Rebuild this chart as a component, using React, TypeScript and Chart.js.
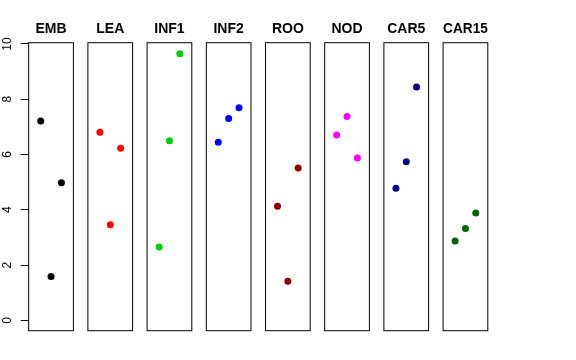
import React, { useEffect, useRef } from "react";
import { Chart, registerables } from "chart.js";

Chart.register(...registerables);

// ---- data ----
const categories = ["EMB", "LEA", "INF1", "INF2", "ROO", "NOD", "CAR5", "CAR15"];
const colors = ["#000000", "#FF0000", "#00CD00", "#0000FF", "#8B0000", "#FF00FF", "#000080", "#006400"];
const xPositions = [1, 2, 3];
const embValues = [7.21, 1.59, 4.98];
const leaValues = [6.81, 3.46, 6.23];
const inf1Values = [2.65, 6.5, 9.65];
const inf2Values = [6.44, 7.3, 7.69];
const rooValues = [4.13, 1.41, 5.51];
const nodValues = [6.71, 7.38, 5.87];
const car5Values = [4.78, 5.74, 8.44];
const car15Values = [2.87, 3.32, 3.88];
const yTicks = [0, 2, 4, 6, 8, 10];

const seriesValues = [embValues, leaValues, inf1Values, inf2Values, rooValues, nodValues, car5Values, car15Values];

// ---- layout ----
const W = 576;
const H = 360;
const PANEL_LEFT0 = 28.7;
const PANEL_STEP = 59.2;
const PANEL_WIDTH = 44.7;
const PLOT_TOP = 42.7;
const PLOT_BOTTOM = 330.7;
const FONT = "'Liberation Sans', Arial, Helvetica, sans-serif";
const TITLE_SIZE = 14;
const TITLE_PAD_TOP = 21;

const boxPlugin = {
  id: "panelBox",
  afterDatasetsDraw(chart: any) {
    const { ctx, chartArea } = chart;
    ctx.save();
    ctx.strokeStyle = "#000";
    ctx.lineWidth = 1;
    ctx.strokeRect(chartArea.left, chartArea.top, chartArea.right - chartArea.left, chartArea.bottom - chartArea.top);
    ctx.restore();
  },
};

function makeConfig(i: number): any {
  const left = PANEL_LEFT0 + PANEL_STEP * i;
  const right = left + PANEL_WIDTH;
  const vals = seriesValues[i];
  const yScale: any = {
    type: "linear",
    display: i === 0,
    min: -0.376,
    max: 10.047,
    afterBuildTicks: (s: any) => {
      s.ticks = yTicks.map((v) => ({ value: v }));
    },
    grid: { drawOnChartArea: false, drawTicks: true, tickLength: 8, color: "#000", lineWidth: 1 },
    border: { display: false },
    ticks: {
      minRotation: 90,
      maxRotation: 90,
      crossAlign: "center",
      padding: 6,
      color: "#000",
      font: { family: FONT, size: 12 },
    },
  };
  if (i === 0) {
    yScale.afterFit = (s: any) => {
      s.width = PANEL_LEFT0;
    };
  }
  return {
    type: "scatter",
    data: {
      datasets: [
        {
          data: xPositions.map((x, j) => ({ x, y: vals[j] })),
          backgroundColor: colors[i],
          borderColor: colors[i],
          borderWidth: 0,
          pointRadius: 3.5,
          pointHoverRadius: 3.5,
        },
      ],
    },
    options: {
      responsive: false,
      animation: false,
      events: [],
      layout: {
        padding: { left: i === 0 ? 0 : left, right: W - right, top: 0, bottom: H - PLOT_BOTTOM },
      },
      plugins: {
        legend: { display: false },
        tooltip: { enabled: false },
        title: {
          display: true,
          text: categories[i],
          fullSize: false,
          color: "#000",
          font: { family: FONT, size: TITLE_SIZE, weight: "bold", lineHeight: 1.2 },
          padding: { top: TITLE_PAD_TOP, bottom: PLOT_TOP - TITLE_PAD_TOP - TITLE_SIZE * 1.2 },
        },
      },
      scales: {
        x: { type: "linear", display: false, min: -0.16, max: 4.16 },
        y: yScale,
      },
    },
    plugins: [boxPlugin],
  };
}

export default function App() {
  const refs = useRef<(HTMLCanvasElement | null)[]>([]);

  useEffect(() => {
    const charts = categories.map((_, i) => new Chart(refs.current[i] as HTMLCanvasElement, makeConfig(i)));
    return () => charts.forEach((c) => c.destroy());
  }, []);

  return (
    <div style={{ position: "fixed", left: 0, top: 0, width: W, height: H, background: "#fff" }}>
      {categories.map((c, i) => (
        <canvas
          key={c}
          ref={(el) => {
            refs.current[i] = el;
          }}
          width={W}
          height={H}
          style={{ position: "absolute", left: 0, top: 0, width: W, height: H }}
        />
      ))}
    </div>
  );
}
